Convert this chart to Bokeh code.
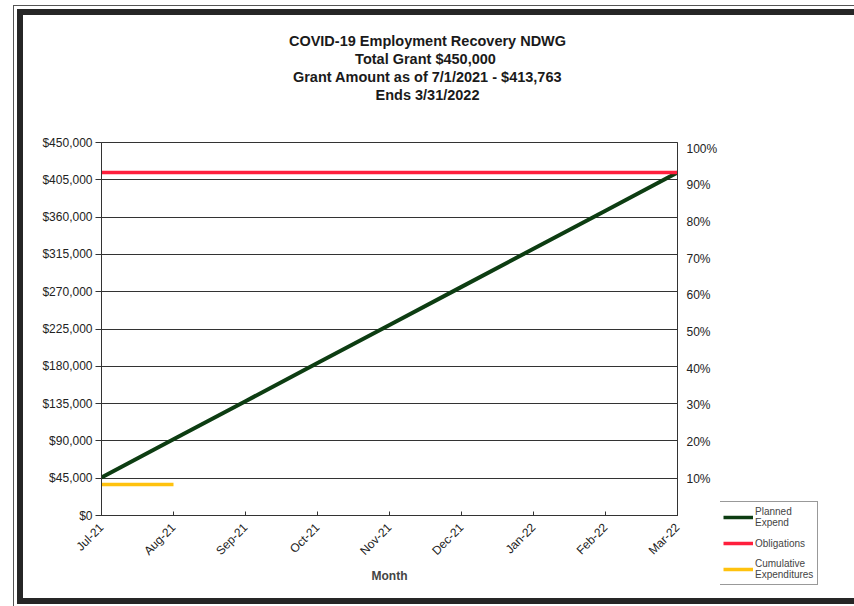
from bokeh.plotting import figure
from bokeh.layouts import column, row, Spacer
from bokeh.models import (Range1d, LinearAxis, FixedTicker, NumeralTickFormatter,
                          Legend, LegendItem, Title)
from bokeh.embed import file_html
from bokeh.resources import INLINE
import math

months = ["Jul-21", "Aug-21", "Sep-21", "Oct-21", "Nov-21", "Dec-21", "Jan-22", "Feb-22", "Mar-22"]
planned = [45974, 91947, 137921, 183895, 229868, 275842, 321816, 367789, 413763]
obligations = [413763, 413763, 413763, 413763, 413763, 413763, 413763, 413763, 413763]
cumulative = [37500, 37500]
y_ticks = [0, 45000, 90000, 135000, 180000, 225000, 270000, 315000, 360000, 405000, 450000]
pct_ticks = [0.1, 0.2, 0.3, 0.4, 0.5, 0.6, 0.7, 0.8, 0.9, 1.0]
title_lines = ["COVID-19 Employment Recovery NDWG", "Total Grant  $450,000",
               "Grant Amount as of 7/1/2021 - $413,763", "Ends 3/31/2022"]
series_names = ["Planned\nExpend", "Obligations", "Cumulative\nExpenditures"]
series_colors = ["#0d3d12", "#ff1f3d", "#ffc20e"]

xs = list(range(len(months)))
series = [(xs, planned), (xs, obligations), (xs[:len(cumulative)], cumulative)]
FONT = "Liberation Sans"


def no_align(fig):
    if "frame_align" in fig.properties():
        fig.frame_align = False


# ---- title strip ----
tf = figure(width=831, height=88, output_backend="svg", toolbar_location=None,
            x_axis_location=None, y_axis_location=None,
            x_range=Range1d(0, 1), y_range=Range1d(0, 1),
            min_border_left=0, min_border_right=23, min_border_top=0, min_border_bottom=0)
tf.title = None
tf.grid.visible = False
tf.outline_line_color = None
no_align(tf)
for line in reversed(title_lines):
    tf.add_layout(Title(text=line, align="center", text_font=FONT, text_font_size="14.5px",
                        text_font_style="bold", text_color="#1a1a1a", standoff=0), "above")

# ---- main chart ----
p = figure(width=697, height=480, output_backend="svg", toolbar_location=None,
           x_range=Range1d(0, len(months) - 1), y_range=Range1d(0, 450000),
           min_border_left=78, min_border_right=43, min_border_top=24, min_border_bottom=83)
p.title = None
p.extra_y_ranges = {"pct": Range1d(0, 1.017)}

p.xaxis.ticker = FixedTicker(ticks=xs)
p.xaxis.major_label_overrides = {i: m for i, m in enumerate(months)}
p.xaxis.major_label_orientation = math.pi / 4
p.xaxis.major_label_standoff = 10
p.xaxis.axis_label = "Month"
p.xaxis.axis_label_text_font = FONT
p.xaxis.axis_label_text_font_size = "12px"
p.xaxis.axis_label_text_font_style = "bold"
p.xaxis.axis_label_standoff = 3
p.xaxis.major_tick_in = 4
p.xaxis.major_tick_out = 0
p.xaxis.minor_tick_line_color = None

p.yaxis.ticker = FixedTicker(ticks=y_ticks)
p.yaxis.formatter = NumeralTickFormatter(format="$0,0")
p.yaxis.major_tick_in = 0
p.yaxis.major_tick_out = 6
p.yaxis.major_label_standoff = 3
p.yaxis.minor_tick_line_color = None

right = LinearAxis(y_range_name="pct", ticker=FixedTicker(ticks=pct_ticks),
                   formatter=NumeralTickFormatter(format="0%"))
right.major_tick_in = 0
right.major_tick_out = 0
right.minor_tick_line_color = None
right.major_label_standoff = 9
p.add_layout(right, "right")

for ax in [p.xaxis[0], p.yaxis[0], right]:
    ax.major_label_text_font = FONT
    ax.major_label_text_font_size = "12px"
    ax.major_label_text_color = "#222222"
    ax.axis_line_color = "#333333"
    ax.major_tick_line_color = "#333333"

p.xgrid.grid_line_color = None
p.ygrid.ticker = FixedTicker(ticks=y_ticks)
p.ygrid.grid_line_color = "#333333"
p.ygrid.grid_line_width = 1
p.outline_line_color = "#333333"

widths = [4, 3.5, 3.5]
for (sx, sy), col, w in zip(series, series_colors, widths):
    p.line(sx, sy, line_color=col, line_width=w)

# ---- legend strip (series re-drawn out of view, only to feed the legend) ----
lp = figure(width=134, height=480, output_backend="svg", toolbar_location=None,
            x_axis_location=None, y_axis_location=None,
            x_range=Range1d(0, 1), y_range=Range1d(0, 1),
            min_border_left=0, min_border_right=0, min_border_top=0, min_border_bottom=0)
lp.title = None
lp.grid.visible = False
lp.outline_line_color = None
no_align(lp)
items = []
for name, (sx, sy), col in zip(series_names, series, series_colors):
    r = lp.line(sx, sy, line_color=col, line_width=3.5)
    items.append(LegendItem(label=name, renderers=[r]))
legend = Legend(items=items, location=(-2, 13), label_text_font=FONT, label_text_font_size="10px",
                glyph_width=30, label_standoff=2, spacing=5, padding=4, margin=0,
                border_line_color="#333333", label_text_line_height=1.1)
lp.add_layout(legend)

layout = column(Spacer(width=831, height=15), tf, row(p, lp))
layout.styles = {
    "margin-left": "23px", "margin-top": "15px",
    "box-shadow": ("-6px 0 0 0 #262626, 0 -6px 0 0 #262626, 0 6px 0 0 #262626, "
                   "-6px -6px 0 0 #262626, -6px 6px 0 0 #262626, "
                   "0 0 0 9px #ffffff, 0 0 0 10px #555555"),
}

open("out.html", "w").write(file_html(layout, INLINE))
